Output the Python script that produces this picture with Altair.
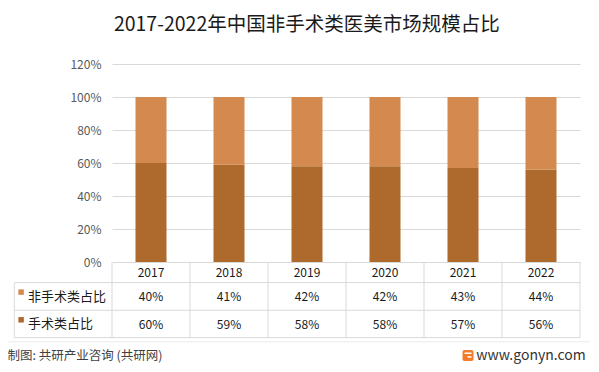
import altair as alt
import pandas as pd

# ---- data ----
years = ["2017", "2018", "2019", "2020", "2021", "2022"]
non_surgical = [40, 41, 42, 42, 43, 44]
surgical = [60, 59, 58, 58, 57, 56]
series_names = ["非手术类占比", "手术类占比"]
colors = ["#D48A4F", "#AE692D"]
y_ticks = [0, 20, 40, 60, 80, 100, 120]

title_text = "2017-2022年中国非手术类医美市场规模占比"
source_text = "制图: 共研产业咨询 (共研网)"
site_text = "www.gonyn.com"

FONT = "Noto Sans CJK SC"
W, H = 468, 198
GRID = "#D9D9D9"

rows = []
for i, yr in enumerate(years):
    rows.append({"year": yr, "series": series_names[1], "value": surgical[i], "order": 0})
    rows.append({"year": yr, "series": series_names[0], "value": non_surgical[i], "order": 1})
bars_df = pd.DataFrame(rows)

table_df = pd.DataFrame({
    "year": years,
    "ns": [f"{v}%" for v in non_surgical],
    "s": [f"{v}%" for v in surgical],
})
one = pd.DataFrame({"k": [0]})

x_scale = alt.Scale(domain=years, paddingInner=0, paddingOuter=0)
x_enc = alt.X("year:N", scale=x_scale, axis=None)

bars = alt.Chart(bars_df).mark_bar(size=31).encode(
    x=x_enc,
    y=alt.Y("value:Q", stack="zero",
            scale=alt.Scale(domain=[0, 120], nice=False),
            axis=alt.Axis(values=y_ticks, labelExpr="datum.value + '%'", domain=False,
                          ticks=False, labelPadding=11, labelFont=FONT, labelFontSize=12,
                          labelColor="#595959", gridColor=GRID, title=None)),
    color=alt.Color("series:N", scale=alt.Scale(domain=series_names, range=colors), legend=None),
    order=alt.Order("order:Q"),
)

# table grid lines
def hline(y, x0, x1, color=GRID):
    return alt.Chart(one).mark_rule(color=color, strokeWidth=1).encode(
        x=alt.value(x0), x2=alt.value(x1), y=alt.value(y))

ROW1, ROW2, ROW3 = 218.6, 246.3, 273.6
LEFT = -97.7
h_lines = [hline(ROW1, LEFT, W), hline(ROW2, LEFT, W), hline(ROW3, LEFT, W)]
left_v = alt.Chart(one).mark_rule(color=GRID).encode(
    x=alt.value(LEFT), y=alt.value(ROW1), y2=alt.value(ROW3))
col_v = alt.Chart(table_df).mark_rule(color=GRID).encode(
    x=alt.X("year:N", scale=x_scale, axis=None, bandPosition=0),
    y=alt.value(H), y2=alt.value(ROW3))
right_v = alt.Chart(one).mark_rule(color=GRID).encode(
    x=alt.value(W), y=alt.value(H), y2=alt.value(ROW3))

txt = dict(font=FONT, fontSize=12, color="#1A1A1A", baseline="middle")
header = alt.Chart(table_df).mark_text(**txt).encode(x=x_enc, y=alt.value(208.6), text="year:N")
row_ns = alt.Chart(table_df).mark_text(**txt).encode(x=x_enc, y=alt.value(233.4), text="ns:N")
row_s = alt.Chart(table_df).mark_text(**txt).encode(x=x_enc, y=alt.value(260.6), text="s:N")

leg_df = pd.DataFrame({"series": series_names})
sq1 = alt.Chart(leg_df.iloc[[0]]).mark_square(size=30, opacity=1).encode(
    x=alt.value(-90.9), y=alt.value(228.1), color=alt.value(colors[0]))
sq2 = alt.Chart(leg_df.iloc[[1]]).mark_square(size=30, opacity=1).encode(
    x=alt.value(-90.9), y=alt.value(255.8), color=alt.value(colors[1]))
lab1 = alt.Chart(leg_df.iloc[[0]]).mark_text(font=FONT, fontSize=13, color="#1A1A1A",
                                             align="left", baseline="middle").encode(
    x=alt.value(-84), y=alt.value(233.0), text="series:N")
lab2 = alt.Chart(leg_df.iloc[[1]]).mark_text(font=FONT, fontSize=13, color="#1A1A1A",
                                             align="left", baseline="middle").encode(
    x=alt.value(-84), y=alt.value(260.4), text="series:N")

title = alt.Chart(pd.DataFrame({"t": [title_text]})).mark_text(
    font=FONT, fontSize=19.5, color="#1A1A1A", align="center", baseline="middle").encode(
    x=alt.value(194.8), y=alt.value(-38.7), text="t:N")

FOOT_Y = 291.5
foot_line = hline(277.8, -103.7, 478.3, color="#EBEBEB")
foot_src = alt.Chart(pd.DataFrame({"t": [source_text]})).mark_text(
    font=FONT, fontSize=12.5, color="#404040", align="left", baseline="middle").encode(
    x=alt.value(-104.5), y=alt.value(FOOT_Y), text="t:N")
logo = alt.Chart(one).mark_rect(color="#F47B2C", cornerRadius=2).encode(
    x=alt.value(350.5), x2=alt.value(361.5), y=alt.value(FOOT_Y - 5.5), y2=alt.value(FOOT_Y + 5.5))
logo_w1 = alt.Chart(one).mark_rect(color="white").encode(
    x=alt.value(352.5), x2=alt.value(359.5), y=alt.value(FOOT_Y - 3), y2=alt.value(FOOT_Y - 1.5))
logo_w2 = alt.Chart(one).mark_rect(color="white").encode(
    x=alt.value(355.5), x2=alt.value(359.5), y=alt.value(FOOT_Y + 0.7), y2=alt.value(FOOT_Y + 2.2))
foot_site = alt.Chart(pd.DataFrame({"t": [site_text]})).mark_text(
    font=FONT, fontSize=14, color="#333333", align="left", baseline="middle").encode(
    x=alt.value(364.3), y=alt.value(FOOT_Y), text="t:N")

chart = alt.layer(
    bars, *h_lines, left_v, col_v, right_v, header, row_ns, row_s,
    sq1, sq2, lab1, lab2, title, foot_line, foot_src, logo, logo_w1, logo_w2, foot_site,
).properties(
    width=W, height=H,
    autosize="none",
    padding={"left": 104, "top": 56, "right": 11, "bottom": 102},
    background="white",
).configure_view(stroke=None)

chart.save("out.html", embed_options={"renderer": "svg", "actions": False})
